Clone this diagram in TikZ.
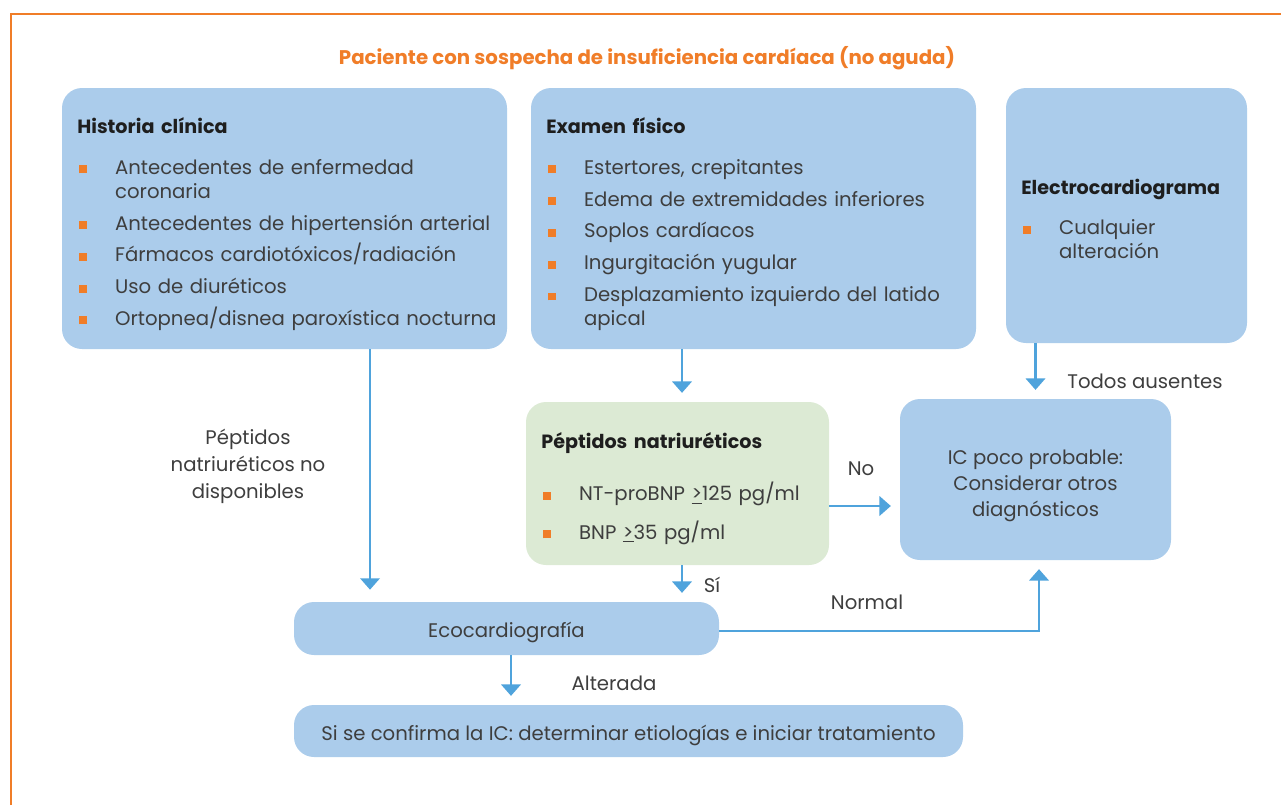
\documentclass[tikz,border=0pt]{standalone}
\usepackage{fontspec}
\setmainfont{Poppins}
\usetikzlibrary{arrows.meta,fit,positioning}

\definecolor{boxblue}{RGB}{171,204,235}
\definecolor{boxgreen}{RGB}{220,234,212}
\definecolor{arrowblue}{RGB}{79,163,220}
\definecolor{orangeC}{RGB}{240,125,40}
\definecolor{txtgrey}{RGB}{62,62,62}
\definecolor{headblack}{RGB}{30,30,30}

% heading and bullet item inside a box
\newcommand{\hd}[1]{{\fontsize{10.9}{13.6}\selectfont\bfseries\color{headblack}#1}\par\vspace{5pt}}
\newcommand{\itm}[2][4.5pt]{\par\vspace{#1}\noindent\hangindent=21.5pt\hangafter=1%
  \makebox[21.5pt][l]{\hspace{1.1pt}\textcolor{orangeC}{\rule[0.6pt]{4.5pt}{4.5pt}}}#2\par}

\begin{document}
\begin{tikzpicture}[x=0.02cm, y=-0.02cm,
    font=\fontsize{11.2}{13.6}\selectfont, text=txtgrey,
    box/.style={fill=boxblue, rounded corners=0.4cm, inner sep=0pt},
    greenbox/.style={box, fill=boxgreen},
    listtxt/.style={anchor=north west, inner sep=0pt, align=left},
    lbl/.style={inner sep=0pt, align=center},
    arr/.style={draw=arrowblue, line width=1.5pt,
      -{Triangle[width=11pt,length=6.5pt]}, shorten >=5pt}]
    \useasboundingbox (0,0) rectangle (1281,805);
    \draw [orangeC, line width=1.1pt] (11,805) -- (11,14) -- (1281,14) ;

    \node [inner sep=0pt, text=orangeC, font=\fontsize{11.25}{13.6}\selectfont\bfseries] (ttl) at (647,58)
        {Paciente con sospecha de insuficiencia cardíaca (no aguda)} ;

    % boxes
    \node [box, fit={(62,88) (507,349)}] (hist) {} ;
    \node [box, fit={(531,88) (976,349)}] (exam) {} ;
    \node [box, fit={(1006,88) (1247,343)}] (ecg) {} ;
    \node [greenbox, fit={(526,402) (829,565)}] (pep) {} ;
    \node [box, fit={(900,399) (1171,560)}] (icp) {} ;
    \node [box, fit={(294,602) (719,655)}] (eco) {} ;
    \node [box, fit={(294,705) (963,757)}] (conf) {} ;

    % box texts
    \node [listtxt, text width=250pt] (histtxt) at (77,117.5) {\hd{Historia clínica}%
        \itm{Antecedentes de enfermedad\newline coronaria}%
        \itm{Antecedentes de hipertensión arterial}%
        \itm{Fármacos cardiotóxicos/radiación}%
        \itm{Uso de diuréticos}%
        \itm{Ortopnea/disnea paroxística nocturna}} ;
    \node [listtxt, text width=250pt] (examtxt) at (546,117.5) {\hd{Examen físico}%
        \itm{Estertores, crepitantes}%
        \itm{Edema de extremidades inferiores}%
        \itm{Soplos cardíacos}%
        \itm{Ingurgitación yugular}%
        \itm{Desplazamiento izquierdo del latido\newline apical}} ;
    \node [listtxt, text width=130pt] (ecgtxt) at (1021,178.5) {\hd{Electrocardiograma}%
        \itm{Cualquier\newline alteración}} ;
    \node [listtxt, text width=165pt] (peptxt) at (541,432) {\hd{Péptidos natriuréticos}%
        \itm[11.3pt]{NT-proBNP \underline{>}125 pg/ml}%
        \itm[8.3pt]{BNP \underline{>}35 pg/ml}} ;
    \node [lbl, font=\fontsize{11.2}{14.7}\selectfont] (icptxt) at ([yshift=-3.6pt]icp.center)
        {IC poco probable:\\ Considerar otros\\ diagnósticos} ;
    \node [lbl, anchor=base] (ecotxt) at ([yshift=-5pt]eco.center) {Ecocardiografía} ;
    \node [lbl, anchor=base] (conftxt) at ([yshift=-5.5pt]conf.center)
        {Si se confirma la IC: determinar etiologías e iniciar tratamiento} ;

    % connector labels
    \node [lbl, font=\fontsize{11.2}{15.3}\selectfont] (nodisp) at (248,466)
        {Péptidos\\ natriuréticos no\\ disponibles} ;
    \node [lbl] (todos) at (1145,381) {Todos ausentes} ;
    \node [lbl] (no) at (861,469) {No} ;
    \node [lbl] (si) at (712,585) {Sí} ;
    \node [lbl] (normal) at (867,602) {Normal} ;
    \node [lbl] (alt) at (614,683) {Alterada} ;

    % connectors
    \coordinate (hx) at (370,0) ;
    \coordinate (px) at (682,0) ;
    \coordinate (ex) at (511,0) ;
    \coordinate (nx) at (1039,0) ;
    \coordinate (ny) at (0,506) ;
    \coordinate (ey) at (0,631) ;
    \draw [arr, shorten >=6.8pt] (hist.south -| hx) -- (eco.north -| hx) ;
    \draw [arr] (exam.south -| px) -- (pep.north -| px) ;
    \draw [arr] (ecg.south -| icp.north) -- (icp.north) ;
    \draw [arr] (pep.east |- ny) -- (icp.west |- ny) ;
    \draw [arr] (pep.south -| px) -- (eco.north -| px) ;
    \draw [arr] (eco.east |- ey) -| (icp.south -| nx) ;
    \draw [arr] (eco.south -| ex) -- (conf.north -| ex) ;
\end{tikzpicture}
\end{document}
